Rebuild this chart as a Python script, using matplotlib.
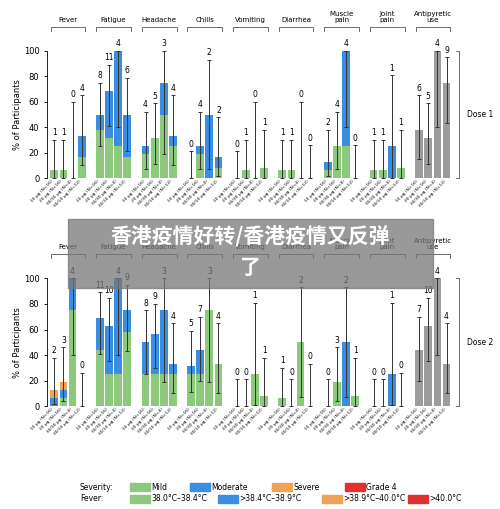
import matplotlib
matplotlib.use("Agg")
import matplotlib.pyplot as plt
import matplotlib.transforms as mtransforms
from matplotlib.patches import Rectangle

plt.rcParams['font.family'] = ['DejaVu Sans', 'Noto Sans CJK SC']

groups = ["Fever", "Fatigue", "Headache", "Chills", "Vomiting", "Diarrhea",
          "Muscle\npain", "Joint\npain", "Antipyretic\nuse"]
doses = ["10 μg (N=16)", "20 μg (N=16)", "30/30 μg (N=4)", "30/10 μg (N=12)"]

# dose 1: per group, per bar: (mild, moderate, severe)
d1_stack = [
    [(6.25, 0, 0), (6.25, 0, 0), (0, 0, 0), (16.7, 16.7, 0)],
    [(37.5, 12.5, 0), (31.25, 37.5, 0), (25, 75, 0), (16.7, 33.3, 0)],
    [(18.75, 6.25, 0), (31.25, 0, 0), (50, 25, 0), (25, 8.3, 0)],
    [(0, 0, 0), (18.75, 6.25, 0), (0, 50, 0), (8.3, 8.3, 0)],
    [(0, 0, 0), (6.25, 0, 0), (0, 0, 0), (8.3, 0, 0)],
    [(6.25, 0, 0), (6.25, 0, 0), (0, 0, 0), (0, 0, 0)],
    [(6.25, 6.25, 0), (25, 0, 0), (25, 75, 0), (0, 0, 0)],
    [(6.25, 0, 0), (6.25, 0, 0), (0, 25, 0), (8.3, 0, 0)],
    [(37.5, 0, 0), (31.25, 0, 0), (100, 0, 0), (75, 0, 0)],
]
d1_n = [[1, 1, 0, 4], [8, 11, 4, 6], [4, 5, 3, 4], [0, 4, 2, 2], [0, 1, 0, 1],
        [1, 1, 0, 0], [2, 4, 4, 0], [1, 1, 1, 1], [6, 5, 4, 9]]
d1_err = [
    [(0, 30), (0, 30), (0, 60), (10, 65)],
    [(25, 75), (41, 89), (40, 100), (21, 79)],
    [(7, 52), (11, 59), (19, 100), (10, 65)],
    [(0, 21), (7, 52), (7, 93), (2, 48)],
    [(0, 21), (0, 30), (0, 60), (0, 38)],
    [(0, 30), (0, 30), (0, 60), (0, 26)],
    [(2, 38), (7, 52), (40, 100), (0, 26)],
    [(0, 30), (0, 30), (0, 81), (0, 38)],
    [(15, 65), (11, 59), (40, 100), (43, 95)],
]

d2_stack = [
    [(0, 6.25, 6.25), (6.25, 6.25, 6.25), (75, 25, 0), (0, 0, 0)],
    [(43.75, 25, 0), (25, 37.5, 0), (25, 75, 0), (58.3, 16.7, 0)],
    [(25, 25, 0), (25, 31.25, 0), (25, 50, 0), (25, 8.3, 0)],
    [(25, 6.25, 0), (25, 18.75, 0), (75, 0, 0), (33.3, 0, 0)],
    [(0, 0, 0), (0, 0, 0), (25, 0, 0), (8.3, 0, 0)],
    [(6.25, 0, 0), (0, 0, 0), (50, 0, 0), (0, 0, 0)],
    [(0, 0, 0), (18.75, 0, 0), (0, 50, 0), (8.3, 0, 0)],
    [(0, 0, 0), (0, 0, 0), (0, 25, 0), (0, 0, 0)],
    [(43.75, 0, 0), (62.5, 0, 0), (100, 0, 0), (33.3, 0, 0)],
]
d2_n = [[2, 3, 4, 0], [11, 10, 4, 9], [8, 9, 3, 4], [5, 7, 3, 4], [0, 0, 1, 1],
        [1, 0, 2, 0], [0, 3, 2, 1], [0, 0, 1, 0], [7, 10, 4, 4]]
d2_err = [
    [(2, 38), (4, 46), (40, 100), (0, 26)],
    [(41, 89), (35, 85), (40, 100), (43, 95)],
    [(25, 75), (30, 80), (19, 100), (10, 65)],
    [(11, 59), (20, 70), (19, 100), (10, 65)],
    [(0, 21), (0, 21), (1, 81), (0, 38)],
    [(0, 30), (0, 21), (7, 93), (0, 33)],
    [(0, 21), (4, 46), (7, 93), (0, 38)],
    [(0, 21), (0, 21), (1, 81), (0, 26)],
    [(20, 70), (35, 85), (40, 100), (10, 65)],
]

green, blue, orange, red, grey = '#8dc97c', '#3a8ee2', '#f0a356', '#e2302e', '#9c9c9c'


def draw_panel(ax, stacks, ns, errs, label):
    ticks = []
    for g in range(len(groups)):
        for b in range(4):
            x = g * 5 + b
            ticks.append(x)
            m, mo, s = stacks[g][b]
            if g == len(groups) - 1:
                ax.bar(x, m, 0.85, color=grey)
            else:
                ax.bar(x, m, 0.85, color=green)
                ax.bar(x, mo, 0.85, bottom=m, color=blue)
                ax.bar(x, s, 0.85, bottom=m + mo, color=orange)
            lo, hi = errs[g][b]
            tot = m + mo + s
            ax.errorbar(x, tot, yerr=[[tot - lo], [hi - tot]], fmt='none',
                        ecolor='#333333', elinewidth=0.7, capsize=1.5, capthick=0.7)
            ax.text(x, hi + 2, str(ns[g][b]), ha='center', va='bottom', fontsize=5.5)
    ax.set_xticks(ticks)
    ax.set_xticklabels(doses * len(groups), rotation=45, ha='right', fontsize=3.2)
    ax.set_xlim(-0.8, 43.6)
    ax.set_ylim(0, 100)
    ax.set_yticks([0, 20, 40, 60, 80, 100])
    ax.tick_params(axis='y', labelsize=6, length=2, width=0.6)
    ax.tick_params(axis='x', length=0, pad=1)
    ax.set_ylabel("% of Participants", fontsize=6, labelpad=1)
    for sp in ['top', 'right', 'bottom']:
        ax.spines[sp].set_visible(False)
    ax.spines['left'].set_linewidth(0.6)
    ax.axhline(0, color='#555555', lw=0.6)
    tr = mtransforms.blended_transform_factory(ax.transData, ax.transAxes)
    for g, name in enumerate(groups):
        x0, x1 = g * 5 - 0.4, g * 5 + 3.4
        ax.plot([x0, x0, x1, x1], [1.16, 1.19, 1.19, 1.16], color='#555555',
                lw=0.6, transform=tr, clip_on=False)
        ax.text(g * 5 + 1.5, 1.22, name, ha='center', va='bottom', fontsize=5,
                transform=tr, linespacing=1.0)
    xb = 44.4
    ax.plot([xb - 0.4, xb, xb, xb - 0.4], [0, 0, 1, 1], color='#555555', lw=0.6,
            transform=tr, clip_on=False)
    ax.text(xb + 0.8, 0.5, label, ha='left', va='center', fontsize=5.5, transform=tr)


fig = plt.figure(figsize=(5, 5.09), dpi=100)
fig.patch.set_facecolor('white')
ax1 = fig.add_axes([0.094, 0.65, 0.81, 0.25])
ax2 = fig.add_axes([0.094, 0.202, 0.81, 0.251])
draw_panel(ax1, d1_stack, d1_n, d1_err, "Dose 1")
draw_panel(ax2, d2_stack, d2_n, d2_err, "Dose 2")

# legend
sev = ["Mild", "Moderate", "Severe", "Grade 4"]
fev = ["38.0°C–38.4°C", ">38.4°C–38.9°C", ">38.9°C–40.0°C", ">40.0°C"]
cols = [green, blue, orange, red]
xs_sev = [0.26, 0.38, 0.544, 0.69]
xs_fev = [0.26, 0.436, 0.644, 0.816]
fig.text(0.16, 0.043, "Severity:", fontsize=5.5, va='center')
fig.text(0.16, 0.020, "Fever:", fontsize=5.5, va='center')
for xa, xb, s, f, c in zip(xs_sev, xs_fev, sev, fev, cols):
    fig.patches.append(Rectangle((xa, 0.035), 0.04, 0.016, color=c, transform=fig.transFigure))
    fig.patches.append(Rectangle((xb, 0.012), 0.04, 0.016, color=c, transform=fig.transFigure))
    fig.text(xa + 0.042, 0.043, s, fontsize=5.5, va='center')
    fig.text(xb + 0.042, 0.020, f, fontsize=5.5, va='center')

# watermark overlay
fig.patches.append(Rectangle((0.135, 0.435), 0.73, 0.135, color='#777777', alpha=0.75,
                             transform=fig.transFigure))
fig.text(0.5, 0.535, "香港疫情好转/香港疫情又反弹", fontsize=15, color='white',
         fontweight='bold', ha='center', va='center', family=['Noto Sans CJK SC'])
fig.text(0.5, 0.475, "了", fontsize=15, color='white', fontweight='bold',
         ha='center', va='center', family=['Noto Sans CJK SC'])

fig.savefig("out.png", dpi=100)
